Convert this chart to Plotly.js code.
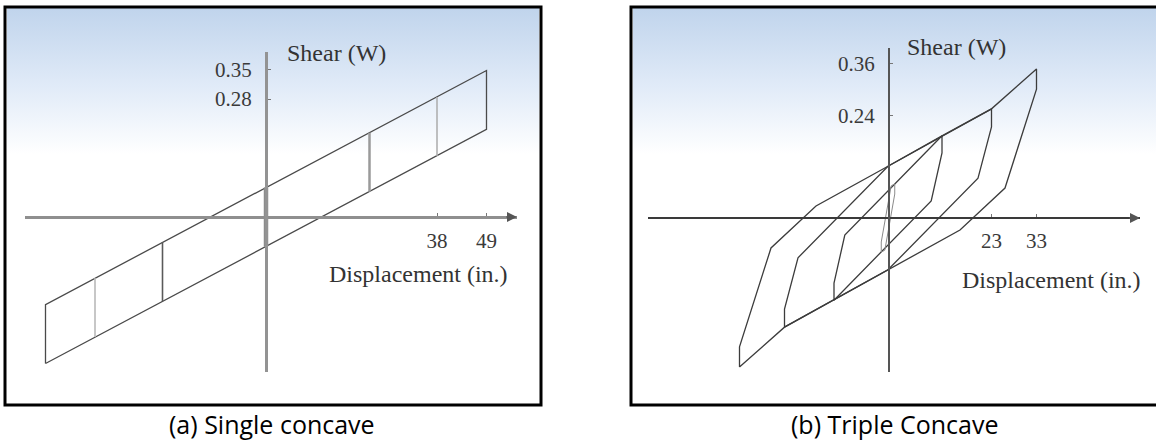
<!DOCTYPE html>
<html>
<head>
<meta charset="utf-8">
<script src="https://cdn.plot.ly/plotly-3.0.1.min.js"></script>
<style>
  body { margin: 0; background: #fff; }
  #graph { width: 1156px; height: 440px; }
</style>
</head>
<body>
<div id="graph"></div>
<script>
// (a) single concave - displacement points and the two shear lines
const leftX = [-49, -38, -23, 0, 23, 38, 49];
const leftUpper = [-0.208, -0.145, -0.060, 0.070, 0.200, 0.285, 0.348];
const leftLower = [-0.348, -0.285, -0.200, -0.070, 0.060, 0.145, 0.208];
const leftXTicks = [38, 49];
const leftYTicks = [0.28, 0.35];

// (b) triple concave - one closed loop per amplitude
const outerX = [-33, -33, -26, -16, 0, 12, 23, 33, 33, 26, 16, 0, -12, -23, -33];
const outerY = [-0.348, -0.301, -0.070, 0.028, 0.121, 0.192, 0.255, 0.348, 0.301, 0.070, -0.028, -0.121, -0.192, -0.255, -0.348];
const midX = [-23, -23, -20, 0, 23, 23, 20, 0, -23];
const midY = [-0.255, -0.213, -0.093, 0.121, 0.255, 0.213, 0.093, -0.121, -0.255];
const innerX = [-12, -12, -9.6, 12, 12, 9.6, -12];
const innerY = [-0.192, -0.152, -0.040, 0.192, 0.152, 0.040, -0.192];
const tinyX = [-1.5, -1.5, 0.7, 1.5, 1.5, -0.7, -1.5];
const tinyY = [-0.080, -0.056, 0.075, 0.080, 0.056, -0.075, -0.080];
const rightXTicks = [23, 33];
const rightYTicks = [0.24, 0.36];

const W = 1156, H = 440;
function px(v) { return v / W; }
function py(v) { return 1 - v / H; }

let data = [];

// outline of the single concave loop
let n = leftX.length - 1;
data.push({
    x: [leftX[0], leftX[0], leftX[n], leftX[n], leftX[0]],
    y: [leftLower[0], leftUpper[0], leftUpper[n], leftLower[n], leftLower[0]],
    xaxis: 'x', yaxis: 'y', mode: 'lines',
    line: { color: '#4a4a4a', width: 1.3 }
});
// the inner unloading lines, each a different grey in the picture
let innerStyle = [null,
    { color: '#b5b5b5', width: 1.5 },
    { color: '#5a5a5a', width: 1.6 },
    { color: '#8c8c8c', width: 4.5 },
    { color: '#9a9a9a', width: 2.5 },
    { color: '#ababab', width: 1.5 }];
for (let i = 1; i < n; i++) {
    data.push({
        x: [leftX[i], leftX[i]],
        y: [leftLower[i], leftUpper[i]],
        xaxis: 'x', yaxis: 'y', mode: 'lines',
        line: innerStyle[i]
    });
}

// triple concave loops
let loops = [[outerX, outerY], [midX, midY], [innerX, innerY]];
loops.forEach(function (l) {
    data.push({
        x: l[0], y: l[1], xaxis: 'x2', yaxis: 'y2', mode: 'lines',
        line: { color: '#3c3c3c', width: 1.3 }
    });
});
data.push({
    x: tinyX, y: tinyY, xaxis: 'x2', yaxis: 'y2', mode: 'lines',
    line: { color: '#8a8a8a', width: 1 }
});

// pixel boxes for the axes
let L = { x0: 266, xs: 4.5, left: 25, right: 517, y0: 217, ys: 421, top: 52, bottom: 372 };
let R = { x0: 888, xs: 4.5, left: 648, right: 1140, y0: 218, ys: 428, top: 48, bottom: 372 };

let serif = 'Liberation Serif, Times New Roman, serif';

function xAxis(b, ticks, pos, lineColor, lineWidth) {
    return {
        domain: [px(b.left), px(b.right)],
        range: [(b.left - b.x0) / b.xs, (b.right - b.x0) / b.xs],
        anchor: 'free', position: pos,
        showline: true, linecolor: lineColor, linewidth: lineWidth,
        showgrid: false, zeroline: false,
        tickmode: 'array', tickvals: ticks, ticktext: ticks.map(String),
        ticks: 'inside', ticklen: 3, tickwidth: 1, tickcolor: '#777',
        ticklabelstandoff: 4,
        tickfont: { family: serif, size: 21, color: '#3a3a3a' },
        fixedrange: true
    };
}
function yAxis(b, ticks, pos, lineColor, lineWidth) {
    return {
        domain: [py(b.bottom), py(b.top)],
        range: [(b.y0 - b.bottom) / b.ys, (b.y0 - b.top) / b.ys],
        anchor: 'free', position: pos,
        showline: true, linecolor: lineColor, linewidth: lineWidth,
        showgrid: false, zeroline: false,
        tickmode: 'array', tickvals: ticks, ticktext: ticks.map(String),
        ticks: 'inside', ticklen: 3, tickwidth: 1, tickcolor: '#777',
        ticklabelstandoff: 9,
        tickfont: { family: serif, size: 21, color: '#3a3a3a' },
        fixedrange: true
    };
}

// blue to white fill of each panel
let grad = '<svg xmlns="http://www.w3.org/2000/svg" width="100" height="100" preserveAspectRatio="none">' +
    '<defs><linearGradient id="g" x1="0" y1="0" x2="0" y2="1">' +
    '<stop offset="0" stop-color="#c0d4ec"/><stop offset="0.2" stop-color="#e1ebf8"/>' +
    '<stop offset="0.37" stop-color="#ffffff"/><stop offset="1" stop-color="#ffffff"/>' +
    '</linearGradient></defs><rect width="100" height="100" fill="url(#g)"/></svg>';
let gradSrc = 'data:image/svg+xml;charset=utf-8,' + encodeURIComponent(grad);

function panelImage(x0, x1) {
    return {
        source: gradSrc, xref: 'paper', yref: 'paper',
        x: px(x0), y: py(8), sizex: px(x1 - x0), sizey: (404 - 8) / H,
        xanchor: 'left', yanchor: 'top', sizing: 'stretch', layer: 'below'
    };
}

function label(text, x, y, anchor, font) {
    return {
        text: text, xref: 'paper', yref: 'paper', x: px(x), y: py(y),
        xanchor: anchor, yanchor: 'middle', showarrow: false, font: font
    };
}
let labelFont = { family: serif, size: 24, color: '#333' };
let capFont = { family: 'Open Sans, sans-serif', size: 25, color: '#000' };

function axisArrow(xa, ya) {
    return {
        text: '', xref: xa + ' domain', yref: ya, x: 1, y: 0,
        showarrow: true, ax: -12, ay: 0, arrowhead: 2, arrowsize: 1,
        arrowwidth: 2, arrowcolor: '#555'
    };
}

let layout = {
    width: W, height: H,
    margin: { l: 0, r: 0, t: 0, b: 0 },
    paper_bgcolor: '#ffffff', plot_bgcolor: 'rgba(0,0,0,0)',
    showlegend: false, hovermode: false,
    xaxis: xAxis(L, leftXTicks, py(L.y0), '#8f8f8f', 3),
    yaxis: yAxis(L, leftYTicks, px(L.x0), '#939393', 2.5),
    xaxis2: xAxis(R, rightXTicks, py(R.y0), '#3a3a3a', 2),
    yaxis2: yAxis(R, rightYTicks, px(R.x0), '#555', 1.5),
    images: [panelImage(7, 539), panelImage(633, 1160)],
    shapes: [
        { type: 'rect', xref: 'paper', yref: 'paper', x0: px(5), x1: px(541), y0: py(405), y1: py(7),
          line: { color: '#000', width: 3 } },
        { type: 'rect', xref: 'paper', yref: 'paper', x0: px(631), x1: px(1165), y0: py(405), y1: py(7),
          line: { color: '#000', width: 3 } }
    ],
    annotations: [
        label('Shear (W)', 285, 53, 'left', labelFont),
        label('Displacement (in.)', 327, 274, 'left', labelFont),
        label('Shear (W)', 905, 47, 'left', labelFont),
        label('Displacement (in.)', 960, 280, 'left', labelFont),
        label('(a) Single concave', 272, 424, 'center', capFont),
        label('(b) Triple Concave', 894, 424, 'center', capFont),
        axisArrow('x', 'y'),
        axisArrow('x2', 'y2')
    ]
};

Plotly.newPlot('graph', data, layout, { displayModeBar: false, staticPlot: true });
</script>
</body>
</html>
